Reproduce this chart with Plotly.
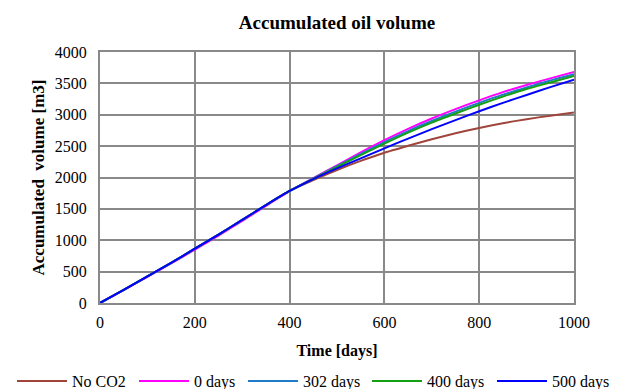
import plotly.graph_objects as go

days = [0, 50, 100, 150, 200, 250, 300, 350, 400, 450, 500, 550, 600, 650, 700, 750, 800, 850, 900, 950, 1000]
early_common = [0, 210, 425, 640, 865, 1090, 1325, 1560, 1785]
early_magenta = [0, 205, 418, 630, 852, 1075, 1310, 1548, 1782]

no_co2 = early_common + [1960, 2120, 2265, 2395, 2505, 2610, 2705, 2790, 2865, 2930, 2985, 3035]
d0 = early_magenta + [1990, 2195, 2400, 2595, 2775, 2940, 3090, 3230, 3360, 3475, 3580, 3680]
d302 = early_common + [1985, 2180, 2375, 2565, 2740, 2900, 3050, 3190, 3320, 3435, 3545, 3645]
d400 = early_common + [1980, 2170, 2355, 2540, 2715, 2875, 3020, 3160, 3290, 3410, 3515, 3620]
d500 = early_common + [1975, 2145, 2305, 2465, 2620, 2770, 2915, 3055, 3190, 3315, 3440, 3560]

names = ["No CO2", "0 days", "302 days", "400 days", "500 days"]
series = [no_co2, d0, d302, d400, d500]
colors = ["#A0453C", "#FF00FF", "#1F7BC8", "#13A013", "#0000FF"]
legend_ids = ["legend", "legend2", "legend3", "legend4", "legend5"]
legend_left_px = [12, 134, 243, 367, 492]

FONT = "Liberation Serif, Times New Roman, serif"
W, H = 624, 389

fig = go.Figure()
for n, s, c, lg in zip(names, series, colors, legend_ids):
    fig.add_trace(go.Scatter(x=days, y=s, mode="lines", name=n, legend=lg,
                             line=dict(color=c, width=2, shape="spline", smoothing=0.6)))

legend_layout = {}
for lg, px in zip(legend_ids, legend_left_px):
    legend_layout[lg] = dict(orientation="h", xref="container", yref="container",
                             x=px / W, xanchor="left", y=1 - 381 / H, yanchor="middle",
                             font=dict(family=FONT, size=16, color="black"),
                             itemwidth=50, bgcolor="rgba(0,0,0,0)", tracegroupgap=0)

grid = "#898989"
fig.update_layout(
    template="none",
    width=W, height=H,
    paper_bgcolor="white", plot_bgcolor="white",
    font=dict(family=FONT, size=16, color="black"),
    margin=dict(l=100, r=50, t=52, b=86, autoexpand=False),
    title=dict(text="<b>Accumulated oil volume</b>", x=0.5, xanchor="center", xref="paper",
               y=1 - 22 / H, yanchor="middle", yref="container",
               font=dict(family=FONT, size=19, color="black")),
    showlegend=True,
    **legend_layout,
)
fig.update_xaxes(range=[0, 1000], dtick=200, showgrid=True, gridcolor=grid, gridwidth=2,
                 showline=True, linecolor=grid, linewidth=2, mirror=True, zeroline=False,
                 ticks="", ticklabelstandoff=4, automargin=False,
                 tickfont=dict(family=FONT, size=16, color="black"),
                 title=dict(text="<b>Time [days]</b>", font=dict(family=FONT, size=16, color="black"), standoff=15))
fig.update_yaxes(range=[0, 4000], dtick=500, showgrid=True, gridcolor=grid, gridwidth=2,
                 showline=True, linecolor=grid, linewidth=2, mirror=True, zeroline=False,
                 ticks="", ticklabelstandoff=8, automargin=False,
                 tickfont=dict(family=FONT, size=16, color="black"),
                 title=dict(text="<b>Accumulated  volume [m3]</b>", font=dict(family=FONT, size=17, color="black"), standoff=6))

fig.write_html("out.html", config={"displayModeBar": False},
               post_script="document.body.style.margin='0';")
